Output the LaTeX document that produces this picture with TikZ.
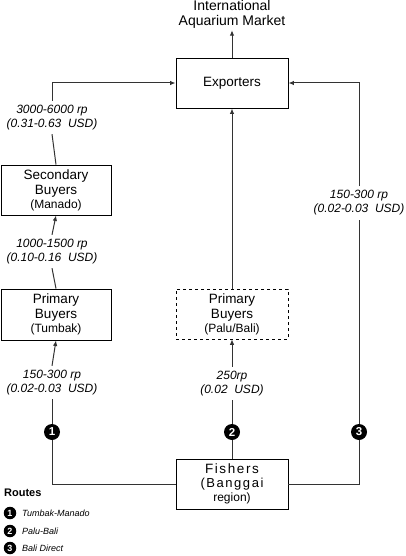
\documentclass[tikz,border=0pt]{standalone}
\usepackage{fontspec}
\setmainfont{Liberation Sans}
\newfontfamily\spacedfont[LetterSpace=12]{Liberation Sans}
\usetikzlibrary{arrows.meta, positioning}

\newcommand{\subtxt}{\fontsize{12}{14}\selectfont}

\begin{document}
\begin{tikzpicture}[
    x=1pt, y=-1pt,
    box/.style={draw, line width=0.9pt, minimum width=112pt, minimum height=50pt, inner sep=0pt, align=center, font=\fontsize{13.5}{15}\selectfont},
    price/.style={align=center, inner sep=4pt, font=\fontsize{12}{14}\selectfont\itshape},
    route/.style={circle, fill=black, text=white, inner sep=0pt, minimum size=16pt, font=\fontsize{11.5}{11.5}\selectfont\bfseries},
    keyroute/.style={circle, fill=black, text=white, inner sep=0pt, minimum size=12.5pt, font=\fontsize{9}{9}\selectfont\bfseries},
    keytext/.style={anchor=west, inner sep=0pt, font=\fontsize{9}{10}\selectfont\itshape},
    link/.style={draw=black!80, line width=1pt},
    arrow/.style={link, -{Latex[length=5.5pt, width=4.5pt]}}
]
    \useasboundingbox (0,0) rectangle (406,556);

    % top
    \node[align=center, inner sep=2pt, font=\fontsize{14}{15}\selectfont] (market) at (232,14) {International\\Aquarium Market};
    \node[box] (exp) at (232,83) {Exporters};

    % route 1
    \node[box, minimum width=110pt] (sec) at (56,190) {Secondary\\Buyers\\[-1pt]{\subtxt (Manado)}};
    \node[box, minimum width=110pt, minimum height=51pt] (prima) at (56,314.5) {Primary\\Buyers\\[-1pt]{\subtxt (Tumbak)}};

    % route 2
    \node[box, dashed, line width=0.6pt] (primb) at (232,314) {Primary\\Buyers\\[-1pt]{\subtxt (Palu/Bali)}};

    % fishers
    \node[box] (fish) at (232,484) {{\spacedfont Fishers}\\[-1pt]{\spacedfont\fontsize{13}{14}\selectfont (Banggai}\\[-1pt]{\subtxt region)}};

    % prices
    \node[price] (pa) at (52,382.5) {150-300 rp\\(0.02-0.03~~USD)};
    \node[price] (pb) at (52,251.5) {1000-1500 rp\\(0.10-0.16~~USD)};
    \node[price] (pc) at (52,117.5) {3000-6000 rp\\(0.31-0.63~~USD)};
    \node[price] (pd) at (232,383.5) {250rp\\(0.02~~USD)};
    \node[price] (pe) at (359,203) {150-300 rp\\(0.02-0.03~~USD)};

    % route markers
    \node[route] (r1) at (52,432) {1};
    \node[route] (r2) at (232,432) {2};
    \node[route] (r3) at (359,432) {3};

    % connectors
    \draw[link] (fish.west) -| (r1);
    \draw[link] (r1) -- (pa.south);
    \draw[arrow] (pa.north) -- (prima.south);
    \draw[link] (prima.north) -- (pb.south);
    \draw[arrow] (pb.north) -- (sec.south);
    \draw[link] (sec.north) -- (pc.south);
    \draw[arrow] (pc.north) |- (exp.west);

    \draw[link] (fish.north) -- (r2);
    \draw[link] (r2) -- (pd.south);
    \draw[arrow] (pd.north) -- (primb.south);
    \draw[arrow] (primb.north) -- (exp.south);

    \draw[link] (fish.east) -| (r3);
    \draw[link] (r3) -- (pe.south);
    \draw[arrow] (pe.north) |- (exp.east);

    \draw[arrow] (exp.north) -- (market.south);

    % legend
    \node[anchor=west, inner sep=0pt, font=\fontsize{11}{12}\selectfont\bfseries] (routes) at (4,493) {Routes};
    \node[keyroute] (k1) at (10,513) {1};
    \node[keyroute] (k2) at (10,531) {2};
    \node[keyroute] (k3) at (10,548) {3};
    \node[keytext] (t1) at (22,513) {Tumbak-Manado};
    \node[keytext] (t2) at (22,531) {Palu-Bali};
    \node[keytext] (t3) at (22,548) {Bali Direct};
\end{tikzpicture}
\end{document}
